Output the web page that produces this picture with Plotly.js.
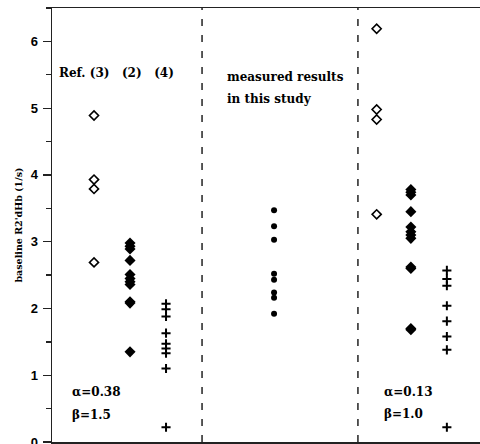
<!DOCTYPE html>
<html>
<head>
<meta charset="utf-8">
<script src="https://cdn.plot.ly/plotly-3.0.1.min.js"></script>
<style>html,body{margin:0;padding:0;background:#fff;}#chart{width:480px;height:444px;}</style>
</head>
<body>
<div id="chart"></div>
<script>
// Column positions (x, arbitrary units)
const colRef3 = 1, colRef2 = 2, colRef4 = 3, divider1 = 4, colStudy = 6;
const divider2 = 8.33, colR_open = 8.85, colR_filled = 9.8, colR_plus = 10.8;

// Values: baseline R2'dHb (1/s)
const ref3Vals = [4.89, 3.93, 3.79, 2.69];
const ref2Vals = [2.98, 2.93, 2.89, 2.72, 2.51, 2.45, 2.40, 2.36, 2.10, 2.08, 1.35];
const ref4Vals = [2.07, 1.99, 1.88, 1.63, 1.47, 1.40, 1.33, 1.10, 0.22];
const studyVals = [3.47, 3.23, 3.03, 2.52, 2.43, 2.24, 2.16, 1.92];
const rightOpenVals = [6.19, 4.98, 4.83, 3.41];
const rightFilledVals = [3.78, 3.74, 3.70, 3.45, 3.22, 3.15, 3.10, 3.05, 2.62, 2.60, 1.70, 1.68];
const rightPlusVals = [2.57, 2.44, 2.34, 2.04, 1.81, 1.58, 1.38, 0.22];

const yTickVals = [0, 1, 2, 3, 4, 5, 6];
const yTickText = ['0', '1', '2', '3', '4', '5', '6'];

const black = '#000';
function col(x, vals, symbol, size, lw) {
  return {
    type: 'scatter', mode: 'markers',
    x: vals.map(() => x), y: vals,
    marker: {symbol: symbol, size: size, color: black, line: {color: black, width: lw}},
    hoverinfo: 'y', showlegend: false, cliponaxis: false
  };
}

const data = [
  col(colRef3, ref3Vals, 'diamond-open', 7, 1.6),
  col(colRef2, ref2Vals, 'diamond', 8.5, 0),
  col(colRef4, ref4Vals, 'cross-thin', 6.5, 2),
  col(colStudy, studyVals, 'circle', 6, 0),
  col(colR_open, rightOpenVals, 'diamond-open', 7, 1.6),
  col(colR_filled, rightFilledVals, 'diamond', 8.5, 0),
  col(colR_plus, rightPlusVals, 'cross-thin', 6.5, 2)
];

const txtFont = {family: 'DejaVu Serif, serif', size: 12, color: black, weight: 'bold'};
function note(x, y, text) {
  return {x: x, y: y, xref: 'x', yref: 'y', text: text, showarrow: false,
          xanchor: 'left', yanchor: 'middle', font: txtFont};
}

const layout = {
  width: 480, height: 444,
  margin: {l: 52, r: 0, t: 8, b: 2},
  paper_bgcolor: '#fff', plot_bgcolor: '#fff',
  showlegend: false,
  xaxis: {
    range: [-0.167, 11.72], showgrid: false, zeroline: false,
    showticklabels: false, ticks: '',
    showline: true, linecolor: '#222', linewidth: 1.5, mirror: true
  },
  yaxis: {
    range: [0, 6.5], showgrid: false, zeroline: false,
    tickmode: 'array', tickvals: yTickVals, ticktext: yTickText,
    ticks: 'outside', ticklen: 8, tickwidth: 1.3, tickcolor: '#222',
    minor: {dtick: 0.5, ticks: 'outside', ticklen: 5, tickwidth: 1.3, tickcolor: '#222'},
    ticklabelstandoff: 2, ticklabeloverflow: 'allow',
    tickfont: {family: 'Liberation Sans, Arial, sans-serif', size: 13, color: black, weight: 'bold'},
    showline: true, linecolor: '#222', linewidth: 1.5,
    title: {text: "baseline R2'dHb (1/s)", standoff: 6,
            font: {family: 'DejaVu Serif, serif', size: 9.5, color: black, weight: 'bold'}}
  },
  shapes: [divider1, divider2].map(x => ({
    type: 'line', xref: 'x', yref: 'paper', x0: x, x1: x, y0: 0, y1: 1,
    line: {color: black, width: 1.3, dash: '7px,9px'}
  })),
  annotations: [
    note(-0.03, 5.52, 'Ref. (3)&nbsp;&nbsp;&nbsp;(2)&nbsp;&nbsp;&nbsp;(4)'),
    note(4.64, 5.47, 'measured results'),
    note(4.64, 5.14, 'in this study'),
    note(0.33, 0.75, 'α=0.38'),
    note(0.33, 0.40, 'β=1.5'),
    note(8.99, 0.75, 'α=0.13'),
    note(8.99, 0.42, 'β=1.0')
  ]
};

Plotly.newPlot('chart', data, layout, {displayModeBar: false, staticPlot: true});
</script>
</body>
</html>
